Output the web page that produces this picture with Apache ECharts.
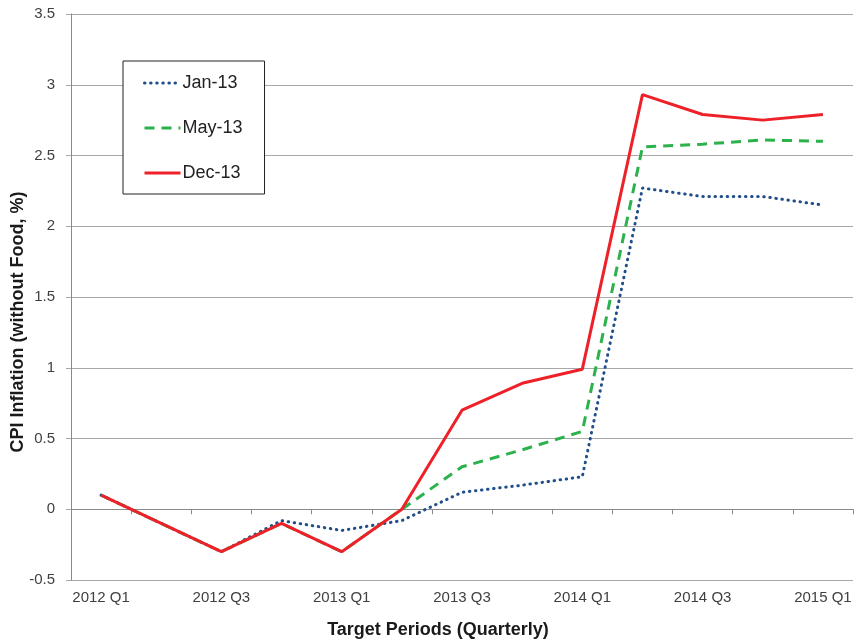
<!DOCTYPE html>
<html>
<head>
<meta charset="utf-8">
<script src="https://cdn.jsdelivr.net/npm/echarts@6/dist/echarts.min.js"></script>
<style>
  html, body { margin: 0; padding: 0; background: #ffffff; }
  #chart { width: 855px; height: 642px; }
</style>
</head>
<body>
<div id="chart"></div>
<script>
// Target quarters
var categories = ['2012 Q1', '2012 Q2', '2012 Q3', '2012 Q4', '2013 Q1', '2013 Q2', '2013 Q3',
                  '2013 Q4', '2014 Q1', '2014 Q2', '2014 Q3', '2014 Q4', '2015 Q1'];

// CPI inflation forecasts (without food, %) by survey round
var jan13 = [0.10, -0.10, -0.30, -0.08, -0.15, -0.08, 0.12, 0.17, 0.23, 2.27, 2.21, 2.21, 2.15];
var may13 = [0.10, -0.10, -0.30, -0.10, -0.30, 0.00, 0.30, 0.42, 0.55, 2.56, 2.58, 2.61, 2.60];
var dec13 = [0.10, -0.10, -0.30, -0.10, -0.30, 0.00, 0.70, 0.89, 0.99, 2.93, 2.79, 2.75, 2.79];

var seriesNames = ['Jan-13', 'May-13', 'Dec-13'];

var FONT = '"Liberation Sans", Arial, sans-serif';
var GRID_GRAY = '#a8a8a8';
var AXIS_GRAY = '#8a8a8a';

var chart = echarts.init(document.getElementById('chart'), null, { renderer: 'canvas' });

chart.setOption({
  animation: false,
  backgroundColor: '#ffffff',
  textStyle: { fontFamily: FONT },
  grid: { left: 71, right: 2, top: 14, bottom: 62, containLabel: false },
  legend: {
    data: seriesNames,
    orient: 'vertical',
    left: 123,
    top: 61,
    itemWidth: 36,
    itemHeight: 18,
    itemGap: 27,
    padding: [13, 22, 12, 20],
    backgroundColor: '#ffffff',
    borderColor: '#222222',
    borderWidth: 1,
    borderRadius: 0,
    // legend keys show only the line pattern
    itemStyle: { opacity: 0 },
    lineStyle: { width: 3 },
    textStyle: { fontFamily: FONT, fontSize: 18, color: '#222222', padding: [0, 0, 0, -3] }
  },
  xAxis: [
    {
      // axis line crossing at zero with tick marks between quarters
      type: 'category',
      gridIndex: 0,
      data: categories,
      boundaryGap: true,
      axisLine: { show: true, onZero: true, lineStyle: { color: AXIS_GRAY, width: 1 } },
      axisTick: { show: true, interval: 0, length: 5, lineStyle: { color: AXIS_GRAY } },
      axisLabel: { show: false },
      splitLine: { show: false }
    },
    {
      // quarter labels along the bottom edge
      type: 'category',
      gridIndex: 0,
      position: 'bottom',
      data: categories,
      boundaryGap: true,
      axisLine: { show: false, onZero: false },
      axisTick: { show: false },
      axisLabel: { show: true, interval: 1, margin: 10, fontFamily: FONT, fontSize: 15, color: '#404040' },
      splitLine: { show: false }
    }
  ],
  yAxis: {
    type: 'value',
    min: -0.5,
    max: 3.5,
    interval: 0.5,
    axisLine: { show: true, lineStyle: { color: AXIS_GRAY, width: 1 } },
    axisTick: { show: true, length: 5, lineStyle: { color: GRID_GRAY } },
    axisLabel: { margin: 16, fontFamily: FONT, fontSize: 15, color: '#404040' },
    splitLine: { show: true, lineStyle: { color: GRID_GRAY, width: 1 } }
  },
  graphic: [
    {
      type: 'text',
      style: {
        text: 'CPI Inflation (without Food, %)',
        font: 'bold 18px ' + FONT,
        fill: '#1a1a1a',
        textAlign: 'center',
        textVerticalAlign: 'middle'
      },
      x: 18,
      y: 322,
      rotation: Math.PI / 2
    },
    {
      type: 'text',
      style: {
        text: 'Target Periods (Quarterly)',
        font: 'bold 18px ' + FONT,
        fill: '#1a1a1a',
        textAlign: 'center',
        textVerticalAlign: 'middle'
      },
      x: 438,
      y: 630
    }
  ],
  series: [
    {
      name: seriesNames[0],
      type: 'line',
      xAxisIndex: 0,
      data: jan13,
      symbol: 'none',
      smooth: false,
      lineStyle: { color: '#1f4e8a', width: 3, type: [0.5, 5.6], cap: 'round' },
      itemStyle: { color: '#1f4e8a' },
      z: 2
    },
    {
      name: seriesNames[1],
      type: 'line',
      xAxisIndex: 0,
      data: may13,
      symbol: 'none',
      smooth: false,
      lineStyle: { color: '#2bb24c', width: 3, type: [10, 7] },
      itemStyle: { color: '#2bb24c' },
      z: 3
    },
    {
      name: seriesNames[2],
      type: 'line',
      xAxisIndex: 0,
      data: dec13,
      symbol: 'none',
      smooth: false,
      lineStyle: { color: '#ee2128', width: 3, type: 'solid' },
      itemStyle: { color: '#ee2128' },
      z: 4
    }
  ]
});
</script>
</body>
</html>
